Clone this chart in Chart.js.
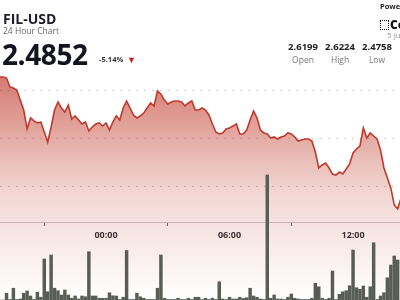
<!DOCTYPE html>
<html>
<head>
<meta charset="utf-8">
<script src="https://cdn.jsdelivr.net/npm/chart.js@4.4.1/dist/chart.umd.min.js"></script>
<style>
    html, body { margin: 0; padding: 0; background: #fff; }
    body { width: 400px; height: 300px; overflow: hidden; position: relative; font-family: 'Open Sans', sans-serif; }
    #chart { position: absolute; left: 0; top: 0; }
    .hdr { position: absolute; white-space: nowrap; }
    .pair { left: 3px; top: 9px; font-size: 14px; font-weight: 700; color: #1e1e28; }
    .sub { left: 3px; top: 25px; font-size: 8.5px; color: #666; }
    .last { left: 2px; top: 35px; font-size: 28px; font-weight: 700; color: #14141e; letter-spacing: -0.4px; }
    .chg { left: 99px; top: 54px; font-size: 7.5px; font-weight: 700; color: #333; }
    .tri { left: 127px; top: 53px; font-size: 9px; color: #c8231e; }
    .stat { top: 40px; width: 40px; text-align: center; }
    .stat b { display: block; font-size: 9.5px; font-weight: 700; color: #222; }
    .stat span { display: block; font-size: 8.5px; color: #777; margin-top: 1px; }
    .powered { left: 380px; top: 1px; font-size: 7.5px; font-weight: 700; color: #222; }
    .logo { left: 380px; top: 16px; font-size: 12px; font-weight: 800; color: #111; }
    .logo i { display: inline-block; width: 7px; height: 8px; border: 1.5px dotted #111; margin-right: 1px; vertical-align: -1px; }
    .date { left: 387px; top: 29px; font-size: 8px; color: #999; }
</style>
</head>
<body>
<canvas id="chart" width="400" height="300"></canvas>

<div class="hdr pair">FIL-USD</div>
<div class="hdr sub">24 Hour Chart</div>
<div class="hdr last">2.4852</div>
<div class="hdr chg">-5.14%</div>
<div class="hdr tri">▼</div>

<div class="hdr powered">Powered by</div>
<div class="hdr logo"><i></i>CoinDesk</div>
<div class="hdr date">5 Jun</div>
<div class="hdr stat" style="left:283px"><b>2.6199</b><span>Open</span></div>
<div class="hdr stat" style="left:320px"><b>2.6224</b><span>High</span></div>
<div class="hdr stat" style="left:357px"><b>2.4758</b><span>Low</span></div>
<div class="hdr stat" style="left:394px"><b>9</b><span>Vol</span></div>

<script>
// Dados (10 min por ponto, a partir de 18:50 do dia anterior)
const startHour = -5 - 10 / 60;

const prices = [
    2.6146, 2.6146, 2.6135, 2.6042, 2.6031, 2.6010, 2.5906, 2.5802, 2.5604, 2.5719,
    2.5688, 2.5667, 2.5677, 2.5573, 2.5469, 2.5625, 2.5802, 2.5885, 2.5823, 2.5781,
    2.5854, 2.5708, 2.5740, 2.5698, 2.5656, 2.5677, 2.5583, 2.5625, 2.5656, 2.5667,
    2.5635, 2.5667, 2.5594, 2.5677, 2.5740, 2.5698, 2.5823, 2.5896, 2.5823, 2.5750,
    2.5719, 2.5740, 2.5771, 2.5823, 2.5875, 2.5844, 2.6000, 2.5969, 2.5906, 2.5865,
    2.5885, 2.5896, 2.5896, 2.5885, 2.5844, 2.5875, 2.5896, 2.5802, 2.5802, 2.5823,
    2.5802, 2.5750, 2.5656, 2.5573, 2.5552, 2.5563, 2.5604, 2.5615, 2.5635, 2.5656,
    2.5552, 2.5552, 2.5594, 2.5698, 2.5792, 2.5719, 2.5594, 2.5563, 2.5552, 2.5510,
    2.5521, 2.5500, 2.5521, 2.5531, 2.5563, 2.5552, 2.5521, 2.5479, 2.5490, 2.5500,
    2.5500, 2.5479, 2.5365, 2.5198, 2.5229, 2.5250, 2.5198, 2.5135, 2.5125, 2.5156,
    2.5135, 2.5188, 2.5240, 2.5354, 2.5396, 2.5427, 2.5615, 2.5510, 2.5563, 2.5531,
    2.5500, 2.5385, 2.5198, 2.5094, 2.4990, 2.4813, 2.4772, 2.4885
];

// Volume (milhares)
const volumes = [
    0, 0, 27, 2, 47, 2, 4, 27, 36, 16,
    2, 31, 11, 164, 33, 180, 47, 37, 20, 40,
    20, 7, 16, 4, 16, 13, 193, 16, 16, 7,
    7, 7, 29, 17, 16, 2, 11, 198, 2, 2,
    27, 13, 7, 2, 2, 2, 47, 180, 7, 2,
    2, 2, 7, 2, 2, 7, 2, 11, 11, 2,
    7, 2, 7, 2, 73, 4, 2, 11, 4, 4,
    11, 6, 9, 47, 16, 11, 4, 2, 500, 7,
    20, 4, 4, 2, 11, 24, 7, 4, 2, 2,
    2, 7, 67, 53, 7, 2, 7, 116, 2, 23,
    33, 37, 57, 200, 49, 43, 56, 11, 53, 229,
    2, 16, 29, 89, 140, 176, 160, null
];

const priceGrid = [2.50, 2.55, 2.60];
const hourTicks = [0, 6, 12];
const hourLabels = ['00:00', '06:00', '12:00'];

const times = prices.map((_, i) => startHour + i / 6);

window.addEventListener('DOMContentLoaded', function() {
    const ctx = document.getElementById('chart');

    function fillGradient(context) {
        const area = context.chart.chartArea;
        if (!area) return 'rgba(192,57,43,0.4)';
        const g = context.chart.ctx.createLinearGradient(0, 70, 0, area.bottom);
        g.addColorStop(0, 'rgba(192,62,48,0.72)');
        g.addColorStop(0.55, 'rgba(200,80,65,0.22)');
        g.addColorStop(1, 'rgba(200,80,65,0.0)');
        return g;
    }

    new Chart(ctx, {
        data: {
            datasets: [{
                type: 'line',
                data: times.map((t, i) => ({ x: t, y: prices[i] })),
                yAxisID: 'y',
                borderColor: '#c0392b',
                borderWidth: 1.6,
                pointRadius: 0,
                tension: 0,
                fill: 'start',
                backgroundColor: fillGradient,
                order: 2
            }, {
                type: 'bar',
                data: times.map((t, i) => ({ x: t, y: volumes[i] })),
                yAxisID: 'yv',
                backgroundColor: '#585d56',
                borderWidth: 0,
                barThickness: 2.8,
                order: 1
            }]
        },
        options: {
            responsive: false,
            animation: false,
            devicePixelRatio: 1,
            layout: { padding: 0 },
            plugins: { legend: { display: false }, tooltip: { enabled: false } },
            scales: {
                x: {
                    type: 'linear',
                    offset: false,
                    min: -5.15,
                    max: 14.28,
                    position: { y: 2.4635 },
                    afterBuildTicks: s => { s.ticks = hourTicks.map(v => ({ value: v })); },
                    ticks: {
                        callback: v => hourLabels[hourTicks.indexOf(v)],
                        font: { family: 'Open Sans', size: 9, weight: 'bold' },
                        color: '#2a2a33',
                        padding: 5,
                        maxRotation: 0
                    },
                    grid: { drawOnChartArea: false, drawTicks: true, tickLength: 3, tickColor: '#666' },
                    border: { display: true, color: '#c8c8c8', dash: [1.5, 6.5] }
                },
                y: {
                    min: 2.38229,
                    max: 2.69479,
                    afterBuildTicks: s => { s.ticks = priceGrid.map(v => ({ value: v })); },
                    ticks: { display: false },
                    grid: { drawTicks: false, color: '#c4c4c4', lineWidth: 1 },
                    border: { display: false, dash: [1.5, 6.5] }
                },
                yv: {
                    display: false,
                    min: 0,
                    max: 1200
                }
            }
        }
    });
});
</script>
</body>
</html>
